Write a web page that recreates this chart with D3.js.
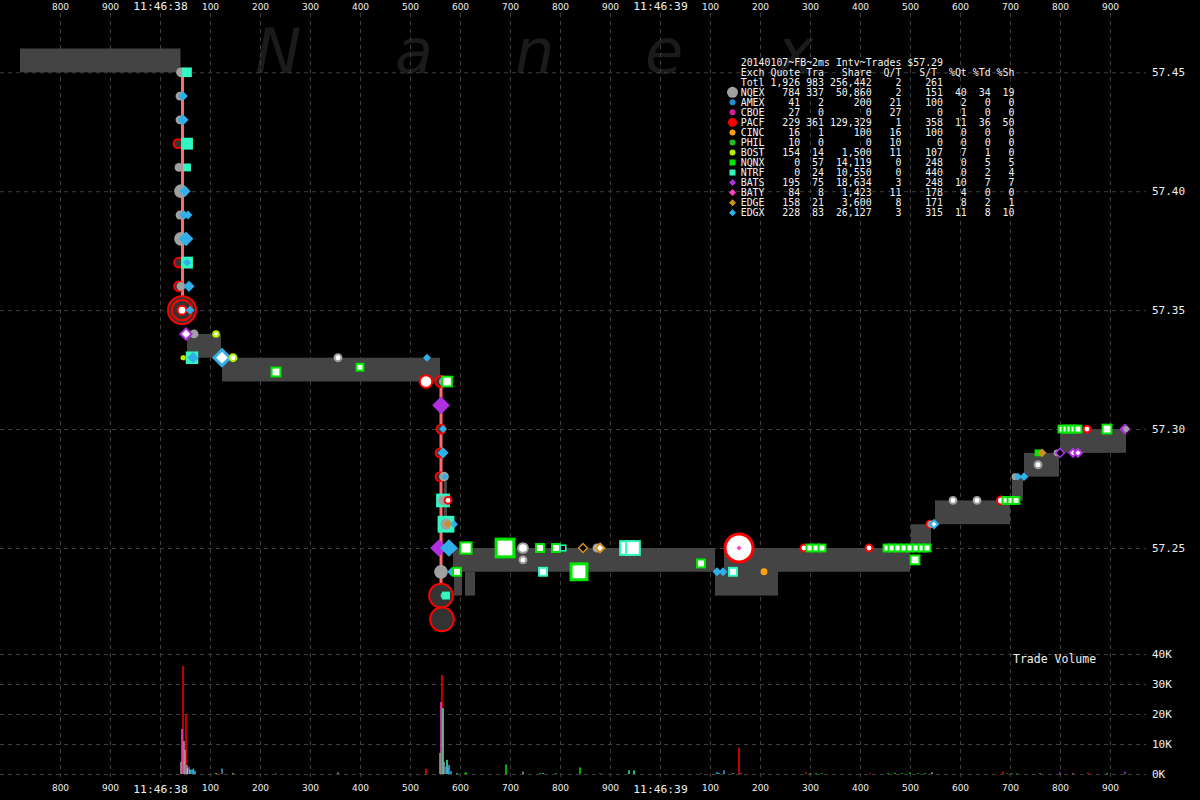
<!DOCTYPE html>
<html><head><meta charset="utf-8">
<script src="https://cdn.jsdelivr.net/npm/d3@7"></script>
<style>html,body{margin:0;background:#000;}svg{display:block;background:#000}</style>
</head><body>
<svg id="c" width="1200" height="800"></svg>
<script>
// ---------------- DATA ----------------
const title = "20140107~FB~2ms Intv~Trades $57.29";
const exchanges = ["NQEX","AMEX","CBOE","PACF","CINC","PHIL","BOST","NQNX","NTRF","BATS","BATY","EDGE","EDGX"];
const exchColors = ["#a0a0a0","#1f8fd0","#d0209a","#ff0000","#ffa010","#20c020","#b4f000","#00e800","#30f8c0","#b030e0","#ff40c8","#d09020","#30b0e8"];
const exchShapes = ["circle","circle","circle","circle","circle","circle","circle","square","square","diamond","diamond","diamond","diamond"];
const quoteCounts = [784,41,27,229,16,10,154,0,0,195,84,158,228];
const tradeCounts = [337,2,0,361,1,0,14,57,24,75,8,21,83];
const shareCounts = [50860,200,0,129329,100,0,1500,14119,10550,18634,1423,3600,26127];
const qtRatio = [2,21,27,1,16,10,11,0,0,3,11,8,3];
const stRatio = [151,100,0,358,100,0,107,248,440,248,178,171,315];
const pctQt = [40,2,1,11,0,0,7,0,0,10,4,8,11];
const pctTd = [34,0,0,36,0,0,1,5,2,7,0,2,8];
const pctSh = [19,0,0,50,0,0,0,5,4,7,0,1,10];
const totals = [1926,983,256442,2,261];
const headers = ["Quote","Tra","Share","Q/T","S/T","%Qt","%Td","%Sh"];

// time in ms relative to 11:46:38.000
const timeTicks = d3.range(-200, 2000, 100);
const priceTicks = [57.25,57.30,57.35,57.40,57.45];
const volumeTicks = [0,10000,20000,30000,40000];

// quote spread bands: [tStart, tEnd, bid, ask]
const quoteBands = [
  [-280, 41, 57.45, 57.46],
  [54, 122, 57.33, 57.34],
  [124, 560, 57.32, 57.33],
  [568, 574, 57.263, 57.278],
  [586, 1110, 57.24, 57.25],
  [588, 604, 57.23, 57.24],
  [610, 630, 57.23, 57.24],
  [1110, 1128, 57.23, 57.24],
  [1128, 1236, 57.23, 57.25],
  [1236, 1500, 57.24, 57.25],
  [1502, 1542, 57.25, 57.26],
  [1550, 1700, 57.26, 57.27],
  [1704, 1726, 57.27, 57.28],
  [1728, 1798, 57.28, 57.29],
  [1800, 1932, 57.29, 57.30]
];

// rapid trade sweeps: [t, priceFrom, priceTo]
const sweeps = [[45, 57.45, 57.35], [562, 57.32, 57.22]];

// trades: [t, price, exchange, shares, kind]  kind: T=trade, H=hollow, R=ring, O=outline
const trades = [
  [36,57.42,"PACF",250,"R"],[38,57.37,"PACF",300,"R"],[38,57.36,"PACF",300,"R"],
  [42,57.45,"NQEX",300,"T"],[54,57.45,"NTRF",300,"T"],
  [40,57.44,"NQEX",250,"T"],[46,57.44,"EDGX",300,"T"],
  [40,57.43,"NQEX",250,"T"],[46,57.43,"EDGX",400,"T"],
  [54,57.42,"NTRF",450,"T"],
  [38,57.41,"NQEX",250,"T"],[54,57.41,"NTRF",200,"T"],
  [42,57.40,"NQEX",600,"T"],[50,57.40,"EDGX",400,"T"],
  [40,57.39,"NQEX",250,"T"],[48,57.39,"EDGX",300,"T"],[56,57.39,"EDGX",250,"T"],
  [42,57.38,"NQEX",600,"T"],[52,57.38,"EDGX",700,"T"],
  [54,57.37,"NTRF",450,"T"],[54,57.37,"EDGX",200,"T"],
  [42,57.36,"NQEX",250,"T"],[58,57.36,"EDGX",400,"T"],
  [44,57.35,"PACF",2500,"R"],[44,57.35,"PACF",1300,"R"],[44,57.35,"PACF",250,"H"],[60,57.35,"EDGX",250,"T"],
  [68,57.34,"NQEX",250,"T"],[52,57.34,"BATS",400,"H"],[112,57.34,"BOST",100,"H"],
  [48,57.33,"PACF",100,"T"],[46,57.33,"BOST",80,"T"],[64,57.33,"NTRF",500,"T"],[66,57.33,"EDGX",400,"T"],
  [124,57.33,"EDGX",800,"H"],[146,57.33,"BOST",150,"H"],
  [232,57.324,"NQNX",250,"H"],[356,57.33,"NQEX",150,"H"],[400,57.326,"NQNX",150,"H"],[534,57.33,"EDGX",200,"T"],
  [532,57.32,"PACF",500,"H"],[562,57.32,"PACF",400,"R"],[566,57.32,"NQEX",200,"T"],[574,57.32,"NQNX",300,"H"],
  [562,57.31,"BATS",1000,"T"],
  [562,57.30,"PACF",250,"R"],[566,57.30,"EDGX",200,"T"],
  [560,57.29,"PACF",250,"R"],[566,57.29,"EDGX",400,"T"],
  [560,57.28,"PACF",250,"R"],[568,57.28,"NQEX",300,"T"],[570,57.28,"EDGX",150,"T"],
  [566,57.27,"NTRF",600,"T"],[566,57.27,"NQEX",300,"T"],[576,57.27,"PACF",150,"H"],
  [572,57.26,"NTRF",900,"T"],[572,57.26,"NQEX",400,"T"],[576,57.26,"EDGE",200,"T"],[588,57.26,"EDGX",200,"T"],
  [562,57.23,"PACF",1800,"R"],[564,57.22,"PACF",1800,"R"],[568,57.23,"NQEX",150,"T"],[572,57.23,"NTRF",200,"T"],
  [558,57.25,"BATS",1000,"T"],[578,57.25,"EDGX",1000,"T"],[612,57.25,"NQNX",400,"H"],
  [562,57.24,"NQEX",600,"T"],[584,57.24,"EDGX",300,"T"],[594,57.24,"NQNX",200,"H"],
  [690,57.25,"NQNX",1000,"H"],[726,57.25,"NQEX",300,"H"],[726,57.245,"NQEX",150,"H"],
  [760,57.25,"NQNX",200,"H"],[792,57.25,"NQNX",200,"H"],[806,57.25,"NTRF",100,"O"],
  [846,57.25,"EDGE",250,"O"],[874,57.25,"NQEX",150,"H"],[880,57.25,"EDGE",250,"H"],
  [934,57.25,"NTRF",600,"H"],[946,57.25,"NTRF",600,"H"],
  [766,57.24,"NTRF",200,"H"],[838,57.24,"NQNX",800,"H"],[1082,57.2435,"NQNX",200,"H"],
  [1114,57.24,"EDGX",250,"T"],[1126,57.24,"EDGX",250,"T"],[1146,57.24,"NTRF",200,"H"],
  [1158,57.25,"PACF",2500,"H"],[1158,57.25,"BATY",80,"T"],[1208,57.24,"CINC",150,"T"],
  [1288,57.25,"PACF",150,"H"],[1300,57.25,"NQNX",150,"H"],[1312,57.25,"NQNX",150,"H"],[1324,57.25,"NQNX",150,"H"],
  [1418,57.25,"PACF",150,"H"],
  [1454,57.25,"NQNX",150,"H"],[1464,57.25,"NQNX",150,"H"],[1476,57.25,"NQNX",150,"H"],[1488,57.25,"NQNX",150,"H"],
  [1500,57.25,"NQNX",150,"H"],[1512,57.25,"NQNX",150,"H"],[1524,57.25,"NQNX",150,"H"],[1534,57.25,"NQNX",150,"H"],
  [1510,57.245,"NQNX",250,"H"],
  [1540,57.26,"PACF",150,"H"],[1542,57.26,"NQEX",150,"T"],[1548,57.26,"EDGX",200,"H"],
  [1586,57.27,"NQEX",150,"H"],[1634,57.27,"NQEX",150,"H"],[1682,57.27,"PACF",200,"H"],
  [1692,57.27,"NQNX",150,"H"],[1702,57.27,"NQNX",150,"H"],[1712,57.27,"NQNX",150,"H"],
  [1710,57.28,"NQEX",150,"T"],[1716,57.28,"EDGX",200,"T"],[1728,57.28,"EDGX",250,"T"],
  [1756,57.285,"NQEX",150,"H"],[1756,57.29,"NQNX",150,"T"],[1764,57.29,"EDGE",250,"T"],
  [1794,57.29,"NQEX",150,"T"],[1800,57.29,"BATS",250,"O"],[1826,57.29,"BATS",200,"H"],[1836,57.29,"BATS",200,"H"],
  [1804,57.30,"NQNX",150,"H"],[1812,57.30,"NQNX",150,"H"],[1820,57.30,"NQNX",150,"H"],[1828,57.30,"NQNX",150,"H"],[1836,57.30,"NQNX",150,"H"],
  [1854,57.30,"PACF",150,"H"],[1894,57.30,"NQNX",250,"H"],[1930,57.30,"BATS",400,"T"],[1932,57.30,"NQEX",100,"T"]
];

// trade volume per 2ms interval: [t, exchange, shares]
const volumes = [
  [42,"NQEX",4000],[44,"BATY",15000],[46,"PACF",36000],[48,"NQEX",11000],[50,"NQEX",8000],
  [52,"PACF",20000],[54,"NQEX",3000],[55,"NTRF",2000],[58,"BATS",2400],[60,"NTRF",1500],
  [64,"EDGX",1500],[67,"EDGX",1800],[70,"EDGX",1000],[112,"BOST",300],[124,"EDGX",1800],[123,"PACF",800],
  [146,"BOST",300],[232,"NQNX",200],[356,"NQEX",500],[400,"NQNX",200],
  [532,"PACF",1800],[560,"NQEX",7000],[562,"BATY",24000],[564,"PACF",33000],[566,"NTRF",22000],
  [568,"NQEX",4000],[572,"EDGX",2500],[574,"NTRF",4700],[576,"EDGX",2000],[578,"EDGX",3000],
  [582,"EDGX",1000],[594,"NTRF",300],[610,"NQNX",300],[612,"NQNX",600],[692,"NQNX",3200],
  [726,"NQEX",800],[760,"NQNX",300],[766,"NTRF",300],[792,"NQNX",300],[840,"NQNX",2200],[880,"EDGE",200],
  [938,"NTRF",1200],[948,"NTRF",1200],[1082,"NQNX",200],[1114,"EDGX",600],[1118,"EDGX",400],
  [1128,"EDGX",1200],[1146,"NTRF",300],[1158,"PACF",8800],[1162,"BATY",300],[1208,"CINC",100],
  [1292,"PACF",600],[1300,"NQNX",300],[1312,"NQNX",300],[1324,"NQNX",300],[1420,"PACF",400],
  [1456,"NQNX",300],[1470,"NQNX",400],[1484,"NQNX",300],[1500,"NQNX",500],[1516,"NQNX",300],[1530,"NQNX",300],
  [1544,"NQEX",600],[1686,"PACF",800],[1694,"NQNX",200],[1704,"NQNX",200],[1714,"NQNX",200],
  [1760,"EDGE",300],[1800,"BATS",600],[1826,"BATY",300],[1856,"PACF",500],[1894,"NQNX",300],[1930,"BATS",800]
];

// ---------------- CHART ----------------
const svg = d3.select("#c");
const W = 1200, H = 800;
const x = d3.scaleLinear().domain([-320, 2080]).range([0, 1200]);
const y = d3.scaleLinear().domain([57.25, 57.45]).range([548, 72.3]);
const yv = d3.scaleLinear().domain([0, 40000]).range([774, 654]);
const side = d3.scaleSqrt().domain([0, 2500]).range([0, 28]);
const colorOf = d3.scaleOrdinal().domain(exchanges).range(exchColors);
const shapeOf = d3.scaleOrdinal().domain(exchanges).range(exchShapes);

svg.append("rect").attr("width", W).attr("height", H).attr("fill", "#000");

const gridColor = "#3e3e3e";
const tickFmt = t => (t % 1000 === 0) ? "11:46:" + String(38 + t / 1000).padStart(2, "0") : String(((t % 1000) + 1000) % 1000);
const isSec = t => t % 1000 === 0;

// watermark
const wm = svg.append("g").attr("fill", "#1b1b1b").attr("font-family", "DejaVu Sans").attr("font-style", "italic").attr("font-size", 62);
[["N",255],["a",395],["n",515],["e",645],["x",777]].forEach(([c, px]) => wm.append("text").attr("x", px).attr("y", 73).text(c));

// top / bottom time axes with vertical grid lines
const topAx = svg.append("g").attr("transform", "translate(0,13)")
  .call(d3.axisTop(x).tickValues(timeTicks).tickFormat(tickFmt).tickSizeInner(-769).tickSizeOuter(0).tickPadding(3));
const bottomAx = svg.append("g").attr("transform", "translate(0,782)")
  .call(d3.axisBottom(x).tickValues(timeTicks).tickFormat(tickFmt).tickSize(0).tickPadding(3));
[topAx, bottomAx].forEach(g => {
  g.select(".domain").remove();
  g.selectAll("line").attr("stroke", gridColor).attr("stroke-dasharray", "4,4");
  g.selectAll("text").attr("fill", "#f0f0f0")
    .attr("font-family", t => isSec(t) ? "DejaVu Sans Mono" : "DejaVu Sans")
    .attr("font-size", t => isSec(t) ? 11.3 : 9);
});

// price axis
const pAx = svg.append("g").call(d3.axisRight(y).tickValues(priceTicks).tickFormat(d3.format(".2f")).tickSizeInner(1146).tickSizeOuter(0).tickPadding(6));
// volume axis
const vAx = svg.append("g").call(d3.axisRight(yv).tickValues(volumeTicks).tickFormat(d => (d / 1000) + "K").tickSizeInner(1146).tickSizeOuter(0).tickPadding(6));
[pAx, vAx].forEach(g => {
  g.select(".domain").remove();
  g.selectAll("line").attr("stroke", gridColor).attr("stroke-dasharray", "4,4");
  g.selectAll("text").attr("fill", "#f0f0f0").attr("font-family", "DejaVu Sans Mono").attr("font-size", 11);
});

svg.append("text").attr("x", 1013).attr("y", 663).attr("fill", "#f0f0f0")
  .attr("font-family", "DejaVu Sans Mono").attr("font-size", 11.5).text("Trade Volume");

// quote bands
svg.append("g").selectAll("rect").data(quoteBands).join("rect")
  .attr("x", d => x(d[0])).attr("width", d => x(d[1]) - x(d[0]))
  .attr("y", d => y(d[3])).attr("height", d => y(d[2]) - y(d[3]))
  .attr("fill", "#444444");

// sweeps
svg.append("g").selectAll("line").data(sweeps).join("line")
  .attr("x1", d => x(d[0])).attr("x2", d => x(d[0]))
  .attr("y1", d => y(d[1])).attr("y2", d => y(d[2]))
  .attr("stroke", "#ff6a6a").attr("stroke-width", 3);

// trade markers
function drawShape(g, shape, s) {
  if (shape === "circle") return g.append("circle").attr("r", s / 2);
  if (shape === "square") return g.append("rect").attr("x", -s / 2).attr("y", -s / 2).attr("width", s).attr("height", s);
  const h = s / 2;
  return g.append("path").attr("d", `M0,${-h}L${h},0L0,${h}L${-h},0Z`);
}
const mk = svg.append("g");
trades.forEach(d => {
  const [t, p, ex, sh, kind] = d;
  const g = mk.append("g").attr("transform", `translate(${x(t)},${y(p)})`);
  const s = side(sh);
  const c = colorOf(ex);
  const el = drawShape(g, shapeOf(ex), s);
  if (kind === "T") el.attr("fill", c);
  else if (kind === "H") el.attr("fill", "#ffffff").attr("stroke", c).attr("stroke-width", s > 14 ? 3 : 2);
  else if (kind === "R") el.attr("fill", "#333333").attr("stroke", c).attr("stroke-width", 2);
  else el.attr("fill", "#000").attr("stroke", c).attr("stroke-width", 1.5);
});

// volume bars
const vsorted = volumes.slice().sort((a, b) => b[2] - a[2]);
svg.append("g").selectAll("rect").data(vsorted).join("rect")
  .attr("x", d => x(d[0]) - 0.75).attr("width", 1.5)
  .attr("y", d => yv(d[2])).attr("height", d => yv(0) - yv(d[2]))
  .attr("fill", d => colorOf(d[1]));

// legend table: each row is one monospaced line
const lg = svg.append("g").attr("font-family", "DejaVu Sans Mono").attr("font-size", 10).attr("fill", "#f4f4f4")
  .style("white-space", "pre");
const cx0 = 740.7, cw = 5.95;
const numEnds = [9, 13, 21, 26, 33, 37, 41, 45];
const headEnds = [9, 13, 21, 26, 32, 37, 41, 45];
const fmt = d3.format(",");
function buildRow(label, cells, ends) {
  const arr = Array(46).fill(" ");
  label.split("").forEach((ch, i) => arr[i] = ch);
  cells.forEach((v, j) => {
    const s = String(v);
    for (let k = 0; k < s.length; k++) arr[ends[j] - s.length + 1 + k] = s[k];
  });
  return arr.join("").replace(/\s+$/, "");
}
function lineText(str, cy) {
  lg.append("text").attr("x", cx0).attr("y", cy + 3.7).attr("xml:space", "preserve")
    .attr("textLength", str.length * cw).attr("lengthAdjust", "spacingAndGlyphs").text(str);
}
lineText(title, 62.6);
lineText(buildRow("Exch", headers, headEnds), 72.5);
lineText(buildRow("Totl", totals.map(fmt), numEnds), 82.4);
exchanges.forEach((ex, i) => {
  const cy = 92.3 + i * 10.03;
  const vals = [quoteCounts[i], tradeCounts[i], shareCounts[i], qtRatio[i], stRatio[i], pctQt[i], pctTd[i], pctSh[i]].map(fmt);
  lineText(buildRow(ex, vals, numEnds), cy);
  const g = lg.append("g").attr("transform", `translate(732.5,${cy})`);
  const s = ex === "NQEX" ? 11 : ex === "PACF" ? 9 : 6;
  drawShape(g, shapeOf(ex), shapeOf(ex) === "diamond" ? 7 : s).attr("fill", colorOf(ex));
});
</script>
</body></html>
